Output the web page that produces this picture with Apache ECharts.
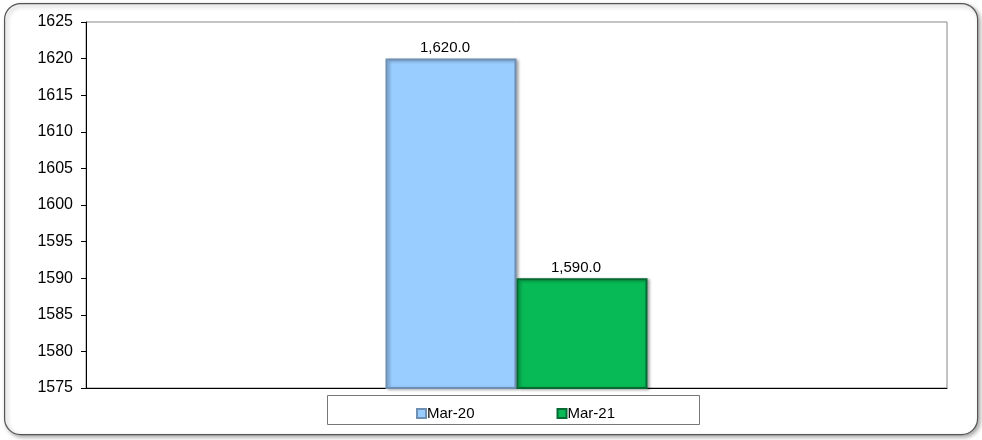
<!DOCTYPE html>
<html><head><meta charset="utf-8">
<script src="https://cdn.jsdelivr.net/npm/echarts@6/dist/echarts.min.js"></script>
<style>html,body{margin:0;padding:0;background:#fff}#c{width:982px;height:440px}</style>
</head><body><div id="c"></div>
<script>
const categories = [''];
const seriesNames = ['Mar-20', 'Mar-21'];
const mar20 = [1620.0];
const mar21 = [1590.0];
const yMin = 1575, yMax = 1625, yStep = 5;

const chart = echarts.init(document.getElementById('c'));
const fmt = v => v.value.toLocaleString('en-US', {minimumFractionDigits: 1, maximumFractionDigits: 1});
const font = 'Liberation Sans, Arial, sans-serif';
chart.setOption({
  animation: false,
  graphic: [
    {type: 'rect', left: 4, top: 3, shape: {width: 973, height: 431, r: 16},
     style: {fill: '#fff', stroke: '#555', lineWidth: 1.2, shadowBlur: 4, shadowOffsetX: 2, shadowOffsetY: 2, shadowColor: 'rgba(0,0,0,0.35)'}, z: -10},
    {type: 'rect', left: 327, top: 395, shape: {width: 372, height: 29},
     style: {fill: '#fff', stroke: '#777', lineWidth: 1}, z: -5}
  ],
  grid: {left: 86, top: 22, right: 35, bottom: 52, show: true, borderColor: '#888', borderWidth: 1, backgroundColor: 'transparent'},
  legend: {
    data: seriesNames, left: 411, top: 401, itemWidth: 9, itemHeight: 9, itemGap: 82,
    icon: 'rect', textStyle: {fontFamily: font, fontSize: 15, color: '#000', padding: [0,0,0,-4]}
  },
  xAxis: {type: 'category', data: categories, axisLine: {lineStyle: {color: '#000'}}, axisTick: {show: false}, axisLabel: {show: false}},
  yAxis: {type: 'value', min: yMin, max: yMax, interval: yStep,
    axisLine: {show: true, lineStyle: {color: '#000'}},
    axisTick: {show: true, length: 5, lineStyle: {color: '#000'}},
    splitLine: {show: false},
    axisLabel: {fontFamily: font, fontSize: 16, color: '#000', margin: 13, formatter: v => String(v)}},
  series: [
    {name: seriesNames[0], type: 'bar', data: mar20, barWidth: 131, barGap: '0%',
     itemStyle: {color: '#99CCFF', borderColor: '#6F8FB3', borderWidth: 2, shadowBlur: 3, shadowOffsetX: 2, shadowOffsetY: 1, shadowColor: 'rgba(0,0,0,0.3)'},
     label: {show: true, position: 'top', distance: 3, offset: [-6, 0], formatter: fmt, fontFamily: font, fontSize: 15, color: '#000'}},
    {name: seriesNames[1], type: 'bar', data: mar21, barWidth: 131, barGap: '0%',
     itemStyle: {color: '#08BA55', borderColor: '#056B33', borderWidth: 2, shadowBlur: 3, shadowOffsetX: 2, shadowOffsetY: 1, shadowColor: 'rgba(0,0,0,0.3)'},
     label: {show: true, position: 'top', distance: 3, offset: [-6, 0], formatter: fmt, fontFamily: font, fontSize: 15, color: '#000'}}
  ]
});
</script></body></html>
